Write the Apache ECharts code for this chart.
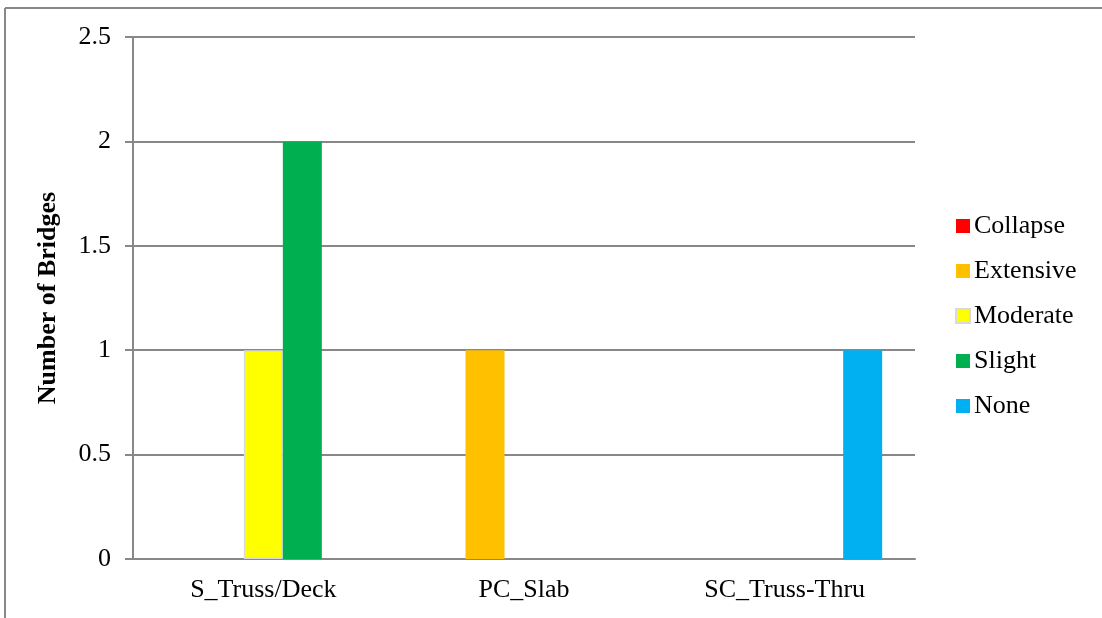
<!DOCTYPE html>
<html>
<head>
<meta charset="utf-8">
<script src="https://cdn.jsdelivr.net/npm/echarts@6/dist/echarts.min.js"></script>
<style>
html,body{margin:0;padding:0;background:#fff;}
#chart{width:1102px;height:618px;}
</style>
</head>
<body>
<div id="chart"></div>
<script>
const categories = ['S_Truss/Deck', 'PC_Slab', 'SC_Truss-Thru'];
const seriesNames = ['Collapse', 'Extensive', 'Moderate', 'Slight', 'None'];
const collapse = [0, 0, 0];
const extensive = [0, 1, 0];
const moderate = [1, 0, 0];
const slight = [2, 0, 0];
const none = [0, 0, 1];
const yTicks = [0, 0.5, 1, 1.5, 2, 2.5];

const colors = ['#FF0000', '#FFC000', '#FFFF00', '#00B050', '#00B0F0'];
const values = [collapse, extensive, moderate, slight, none];
const font = '"Liberation Serif", "Times New Roman", serif';
const fs = 26;

const chart = echarts.init(document.getElementById('chart'));
chart.setOption({
  animation: false,
  backgroundColor: '#fff',
  graphic: [
    {type: 'line', shape: {x1: 5, y1: 8, x2: 1102, y2: 8}, style: {stroke: '#888', lineWidth: 2}},
    {type: 'line', shape: {x1: 5, y1: 8, x2: 5, y2: 618}, style: {stroke: '#888', lineWidth: 2}}
  ],
  grid: {left: 133, right: 187, top: 37, bottom: 59},
  legend: {
    orient: 'vertical',
    left: 950,
    top: 208,
    itemWidth: 14,
    itemHeight: 14,
    itemGap: 19,
    icon: 'rect',
    textStyle: {fontFamily: font, fontSize: fs, color: '#000', padding: [0, 0, 0, -1]},
    data: seriesNames
  },
  xAxis: {
    type: 'category',
    data: categories,
    axisLine: {lineStyle: {color: '#888', width: 2}},
    axisTick: {show: false},
    axisLabel: {fontFamily: font, fontSize: fs, color: '#000', margin: 18}
  },
  yAxis: {
    type: 'value',
    min: yTicks[0],
    max: yTicks[yTicks.length - 1],
    interval: 0.5,
    name: 'Number of Bridges',
    nameLocation: 'middle',
    nameGap: 72,
    nameTextStyle: {fontFamily: font, fontSize: fs, fontWeight: 'bold', color: '#000'},
    axisLine: {show: true, lineStyle: {color: '#888', width: 2}},
    axisTick: {show: true, length: 8, lineStyle: {color: '#888', width: 2}},
    axisLabel: {fontFamily: font, fontSize: fs, color: '#000', margin: 22},
    splitLine: {lineStyle: {color: '#888', width: 2}}
  },
  series: seriesNames.map((n, i) => ({
    name: n,
    type: 'bar',
    data: values[i].map(v => ({value: v, itemStyle: {borderWidth: (i === 2 && v !== 0) ? 1.5 : 0}})),
    barWidth: 39,
    barGap: '0%',
    itemStyle: {
      color: colors[i],
      borderColor: i === 2 ? '#D9D9D9' : colors[i],
      borderWidth: i === 2 ? 1.5 : 0
    }
  }))
});
</script>
</body>
</html>
